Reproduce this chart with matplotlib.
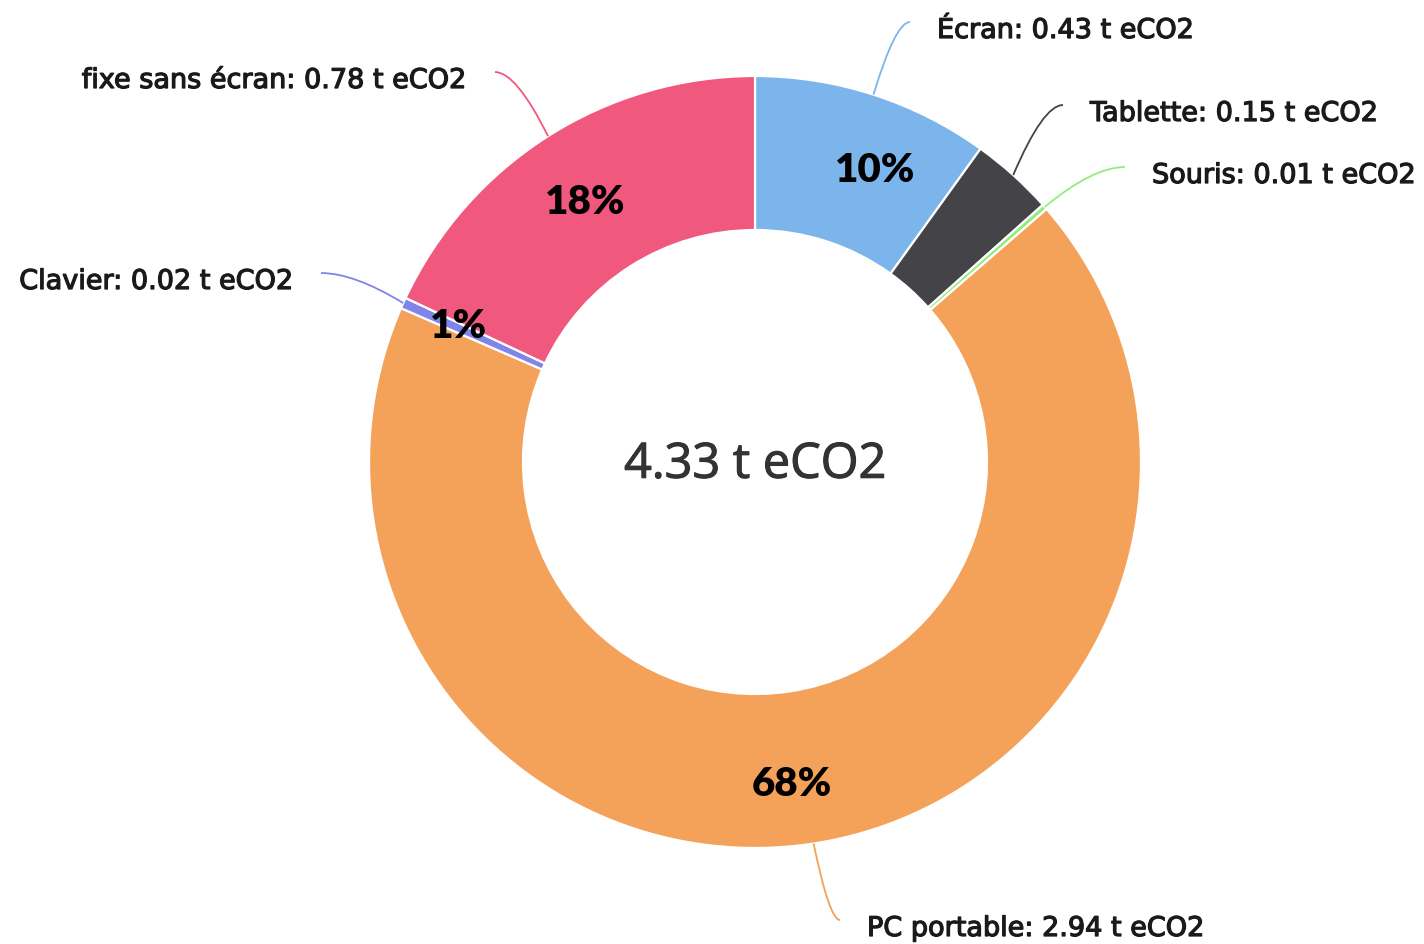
import matplotlib
matplotlib.use("Agg")
import matplotlib.pyplot as plt
import matplotlib.patheffects as pe
import numpy as np
from matplotlib.path import Path
from matplotlib.patches import PathPatch

# Données
categories = ['Écran', 'Tablette', 'Souris', 'PC portable', 'Clavier', 'fixe sans écran']
values = [0.43, 0.15, 0.01, 2.94, 0.02, 0.78]
pct_labels = ['10%', '', '', '68%', '1%', '18%']
colors = ['#7cb5ec', '#434348', '#90ed7d', '#f4a259', '#8085e9', '#f0587e']

W, H = 1424, 944
fig = plt.figure(figsize=(W / 100, H / 100), dpi=100)
ax = fig.add_axes([0, 0, 1, 1])
ax.set_xlim(0, W)
ax.set_ylim(0, H)
ax.set_aspect('equal')
ax.axis('off')


def px(x, y):
    # coordonnées pixel (origine en haut à gauche) -> données
    return x, H - y


cx, cy = 755, 462
r_out, r_in = 386, 232

wedges, _ = ax.pie(values, colors=colors, startangle=90, counterclock=False,
                   center=px(cx, cy), radius=r_out, frame=True,
                   wedgeprops=dict(width=r_out - r_in, edgecolor='white', linewidth=1.6))
ax.set_xlim(0, W)
ax.set_ylim(0, H)
ax.axis('off')

# positions des étiquettes (bout du connecteur), côté du texte
label_ends = [(910, 22, 'left'), (1063, 105, 'left'), (1125, 167, 'left'),
              (840, 920, 'left'), (321, 273, 'right'), (495, 72, 'right')]

for w, name, v, col, (ex, ey, side) in zip(wedges, categories, values, colors, label_ends):
    mid = np.deg2rad((w.theta1 + w.theta2) / 2)
    sx, sy = cx + r_out * np.cos(mid), cy - r_out * np.sin(mid)
    ctrl = (sx + 0.6 * (ex - sx), ey)
    verts = [px(sx, sy), px(*ctrl), px(ex, ey)]
    path = Path(verts, [Path.MOVETO, Path.CURVE3, Path.CURVE3])
    ax.add_patch(PathPatch(path, facecolor='none', edgecolor=col, linewidth=1.3))
    tx = ex + 27 if side == 'left' else ex - 28
    ax.text(*px(tx, ey + 9), f"{name}: {v:.2f} t eCO2", ha=side, va='center',
            fontsize=19.5, color='#1a1a1a', family='DejaVu Sans',
            path_effects=[pe.withStroke(linewidth=0.9, foreground='#1a1a1a')])

# pourcentages
pct_pos = [(875, 170), None, None, (792, 785), (458, 326), (585, 203)]
for lab, pos in zip(pct_labels, pct_pos):
    if lab and pos:
        ax.text(*px(*pos), lab, ha='center', va='center', fontsize=29,
                fontweight='heavy', color='black', family='Lato')

# total au centre
ax.text(*px(cx, cy + 3), f"{sum(values):.2f} t eCO2", ha='center', va='center',
        fontsize=35, color='#333333', family='Open Sans',
        path_effects=[pe.withStroke(linewidth=0.8, foreground='#333333')])

fig.savefig('out.png', dpi=100)
